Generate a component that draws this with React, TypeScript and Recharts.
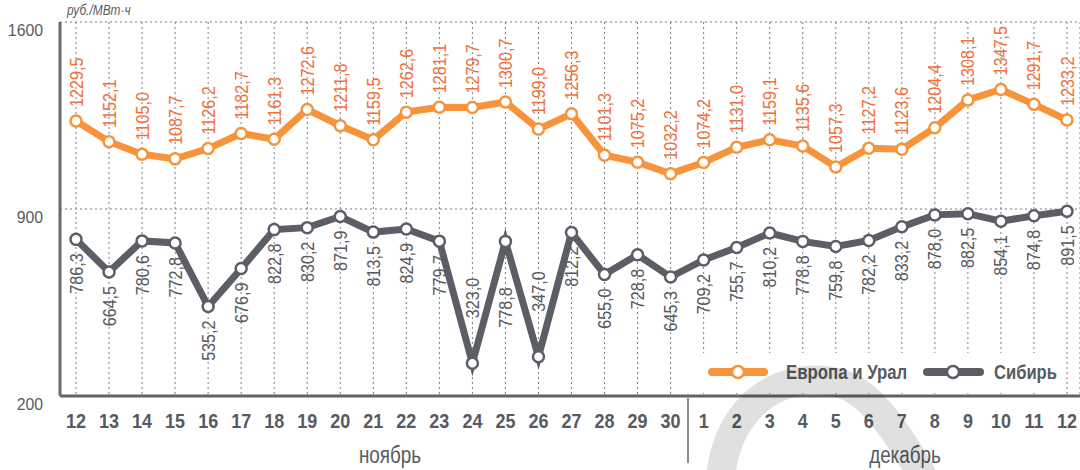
import { LineChart, Line, XAxis, YAxis, CartesianGrid, LabelList } from 'recharts';

// дни: 12–30 ноября, 1–12 декабря
const days = [
  '12', '13', '14', '15', '16', '17', '18', '19', '20', '21', '22', '23', '24', '25', '26', '27', '28', '29', '30',
  '1', '2', '3', '4', '5', '6', '7', '8', '9', '10', '11', '12',
];

const europeUral = [
  1229.5, 1152.1, 1105.0, 1087.7, 1126.2, 1182.7, 1161.3, 1272.6, 1211.8, 1159.5, 1262.6, 1281.1, 1279.7, 1300.7,
  1199.0, 1256.3, 1101.3, 1075.2, 1032.2, 1074.2, 1131.0, 1159.1, 1135.6, 1057.3, 1127.2, 1123.6, 1204.4, 1308.1,
  1347.5, 1291.7, 1233.2,
];

const siberia = [
  786.3, 664.5, 780.6, 772.8, 535.2, 676.9, 822.8, 830.2, 871.9, 813.5, 824.9, 779.7, 323.0, 778.8, 347.0, 812.2,
  655.0, 728.8, 645.3, 709.2, 755.7, 810.2, 778.8, 759.8, 782.2, 833.2, 878.0, 882.5, 854.1, 874.8, 891.5,
];

const yTicks = [200, 900, 1600];
const months = ['ноябрь', 'декабрь'];
const seriesNames = ['Европа и Урал', 'Сибирь'];
const unitLabel = 'руб./МВт·ч';

const FONT = '"Liberation Sans", Arial, sans-serif';
const ORANGE = '#F7943B';
const ORANGE_TEXT = '#F2703C';
const GRAY = '#5B5F65';
const TEXT = '#575B61';
const GRID = '#7c7c7c';

const fmt = (v: number) => Number(v).toFixed(1).replace('.', ',');

// узкий шрифт имитируем сжатием по горизонтали
function CText({ x, y, sx = 0.85, rot = false, anchor = 'start', size, bold, italic, fill = TEXT, children }: any) {
  return (
    <text
      transform={`translate(${x},${y})${rot ? ' rotate(-90)' : ''} scale(${sx},1)`}
      textAnchor={anchor}
      fill={fill}
      fontSize={size}
      fontWeight={bold ? 'bold' : 'normal'}
      fontStyle={italic ? 'italic' : 'normal'}
      fontFamily={FONT}
    >
      {children}
    </text>
  );
}

function YTick(props: any) {
  const { y, payload } = props;
  return (
    <CText x={43} y={y + 14} anchor="end" size={17} sx={0.93}>
      {payload.value}
    </CText>
  );
}

function XTick(props: any) {
  const { x, payload } = props;
  return (
    <CText x={x} y={428} anchor="middle" size={20} sx={0.9} bold>
      {payload.value}
    </CText>
  );
}

function EuropeLabel(props: any) {
  const { x, y, value } = props;
  return (
    <CText x={x + 6.5} y={y - 14} rot size={19} fill={ORANGE_TEXT}>
      {fmt(value)}
    </CText>
  );
}

function SiberiaLabel(props: any) {
  const { x, y, value, index } = props;
  const v = Number(value);
  const prev = siberia[index - 1];
  const next = siberia[index + 1];
  // провалы подписываем сверху, точку между двумя провалами — ниже обычного
  const dip = v < 500;
  const between = prev !== undefined && next !== undefined && prev < 500 && next < 500;
  if (dip) {
    return (
      <CText x={x + 6.5} y={y - 45} rot size={19}>
        {fmt(v)}
      </CText>
    );
  }
  return (
    <CText x={x + 6.5} y={y + (between ? 46 : 14)} rot anchor="end" size={19}>
      {fmt(v)}
    </CText>
  );
}

export default function App() {
  const data = days.map((day, i) => ({ day, europe: europeUral[i], siberia: siberia[i] }));

  return (
    <div style={{ position: 'absolute', left: 0, top: 0, width: 1080, height: 470, background: '#fff' }}>
      <LineChart width={1080} height={470} data={data} margin={{ top: 22, right: 0, bottom: 0, left: 0 }}>
        <CartesianGrid stroke={GRID} strokeDasharray="2 3" />
        <XAxis
          dataKey="day"
          interval={0}
          tickLine={false}
          tickSize={0}
          axisLine={{ stroke: '#616366', strokeWidth: 3 }}
          padding={{ left: 16, right: 13 }}
          height={74}
          tick={<XTick />}
        />
        <YAxis
          domain={[200, 1600]}
          ticks={yTicks}
          width={60}
          tickLine={false}
          axisLine={{ stroke: '#6a6a6a', strokeWidth: 3 }}
          tick={<YTick />}
        />
        <Line
          dataKey="europe"
          stroke={ORANGE}
          strokeWidth={7}
          dot={{ r: 5.5, fill: '#fff', stroke: ORANGE, strokeWidth: 2.5 }}
          isAnimationActive={false}
        >
          <LabelList dataKey="europe" content={<EuropeLabel />} />
        </Line>
        <Line
          dataKey="siberia"
          stroke={GRAY}
          strokeWidth={7}
          dot={{ r: 5.5, fill: '#fff', stroke: GRAY, strokeWidth: 2.5 }}
          isAnimationActive={false}
        >
          <LabelList dataKey="siberia" content={<SiberiaLabel />} />
        </Line>
      </LineChart>

      <svg width={1080} height={470} style={{ position: 'absolute', left: 0, top: 0, pointerEvents: 'none' }}>
        <CText x={67} y={15} size={14} sx={0.85} italic>
          {unitLabel}
        </CText>

        {/* легенда */}
        <rect x={692} y={353} width={370} height={40} fill="#fff" />
        <line x1={712} y1={372} x2={764} y2={372} stroke={ORANGE} strokeWidth={8} strokeLinecap="round" />
        <circle cx={738} cy={372} r={6} fill="#fff" stroke={ORANGE} strokeWidth={2.5} />
        <CText x={786} y={379} size={20} sx={0.84} bold>
          {seriesNames[0]}
        </CText>
        <line x1={927} y1={372} x2={980} y2={372} stroke={GRAY} strokeWidth={8} strokeLinecap="round" />
        <circle cx={953} cy={372} r={6} fill="#fff" stroke={GRAY} strokeWidth={2.5} />
        <CText x={994} y={379} size={20} sx={0.83} bold>
          {seriesNames[1]}
        </CText>

        {/* разделитель месяцев */}
        <line x1={688} y1={398} x2={688} y2={463} stroke="#666" strokeWidth={1.5} />
        <CText x={390} y={463} anchor="middle" size={23} sx={0.82}>
          {months[0]}
        </CText>
        <CText x={905} y={463} anchor="middle" size={23} sx={0.82}>
          {months[1]}
        </CText>

        {/* водяной знак */}
        <path
          d="M 720 482 C 726 410, 772 380, 815 380 C 852 380, 878 396, 926 482"
          fill="none"
          stroke="rgba(0,0,0,0.12)"
          strokeWidth={29}
        />
      </svg>
    </div>
  );
}
